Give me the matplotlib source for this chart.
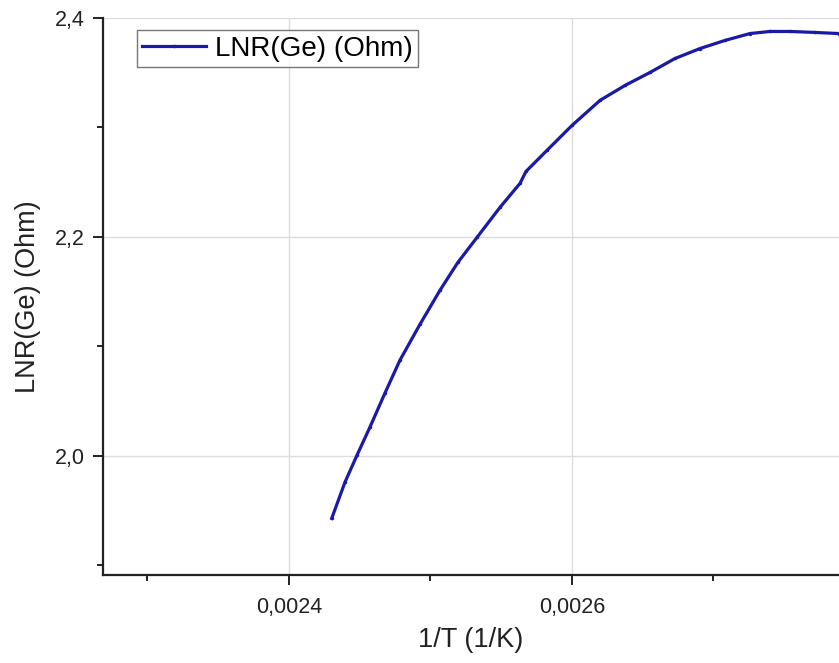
import numpy as np
import matplotlib
matplotlib.use("Agg")
import matplotlib.pyplot as plt
from matplotlib.ticker import MultipleLocator, FuncFormatter

# 1/T (1/K) and LNR(Ge) (Ohm)
inv_t = [0.0024302, 0.0024396, 0.0024481, 0.0024572, 0.0024678, 0.0024784,
         0.0024926, 0.0025067, 0.0025194, 0.0025329, 0.0025491, 0.0025633,
         0.0025675, 0.0025823, 0.0026000, 0.0026198, 0.0026375, 0.0026551,
         0.0026728, 0.0026905, 0.0027081, 0.0027258, 0.0027399, 0.0027541,
         0.0027717, 0.0027887]
lnr = [1.9427, 1.9758, 2.0005, 2.0260, 2.0571, 2.0872,
       2.1201, 2.1511, 2.1767, 2.1995, 2.2269, 2.2489,
       2.2598, 2.2790, 2.3018, 2.3247, 2.3384, 2.3502,
       2.3630, 2.3721, 2.3795, 2.3858, 2.3877, 2.3877,
       2.3868, 2.3858]

x_ticks = [0.0024, 0.0026]
y_ticks = [2.0, 2.2, 2.4]

plt.rcParams['font.family'] = ['Liberation Sans', 'DejaVu Sans']

fig = plt.figure(figsize=(8.39, 6.63), dpi=100)
ax = fig.add_axes([103/839, 1 - 575/663, 1 - 103/839, (575 - 18)/663])

ax.plot(inv_t, lnr, color='#1a1aa8', lw=2.3, marker='.', ms=3,
        label='LNR(Ge) (Ohm)')

ax.set_xlim(0.0022686, 0.0027887)
ax.set_ylim(1.891, 2.4)

ax.set_xticks(x_ticks)
ax.set_yticks(y_ticks)
ax.xaxis.set_minor_locator(MultipleLocator(0.0001))
ax.yaxis.set_minor_locator(MultipleLocator(0.1))
ax.xaxis.set_major_formatter(FuncFormatter(lambda v, p: f"{v:.4f}".replace('.', ',')))
ax.yaxis.set_major_formatter(FuncFormatter(lambda v, p: f"{v:.1f}".replace('.', ',')))

ax.grid(True, which='major', color='#dcdcdc', lw=1)
ax.set_axisbelow(True)

for s in ['top', 'right']:
    ax.spines[s].set_visible(False)
for s in ['left', 'bottom']:
    ax.spines[s].set_linewidth(1.6)
    ax.spines[s].set_color('#222222')

ax.tick_params(which='major', direction='out', length=7, width=1.4,
               labelsize=15.5, colors='#222222')
ax.tick_params(axis='x', which='major', pad=9)
ax.tick_params(axis='y', which='major', pad=6)
ax.tick_params(which='minor', direction='out', length=4, width=1.4,
               colors='#222222')

ax.set_xlabel('1/T (1/K)', fontsize=19.5, color='#222222', labelpad=6)
ax.set_ylabel('LNR(Ge) (Ohm)', fontsize=19.5, color='#222222', labelpad=10)

leg = ax.legend(loc='upper left', bbox_to_anchor=(0.046, 0.978),
                fontsize=20, frameon=True, fancybox=False,
                handlelength=2.3, handletextpad=0.3, borderpad=0.2,
                borderaxespad=0)
leg.get_frame().set_edgecolor('#555555')
leg.get_frame().set_linewidth(1.0)

fig.savefig('out.png', dpi=100)
